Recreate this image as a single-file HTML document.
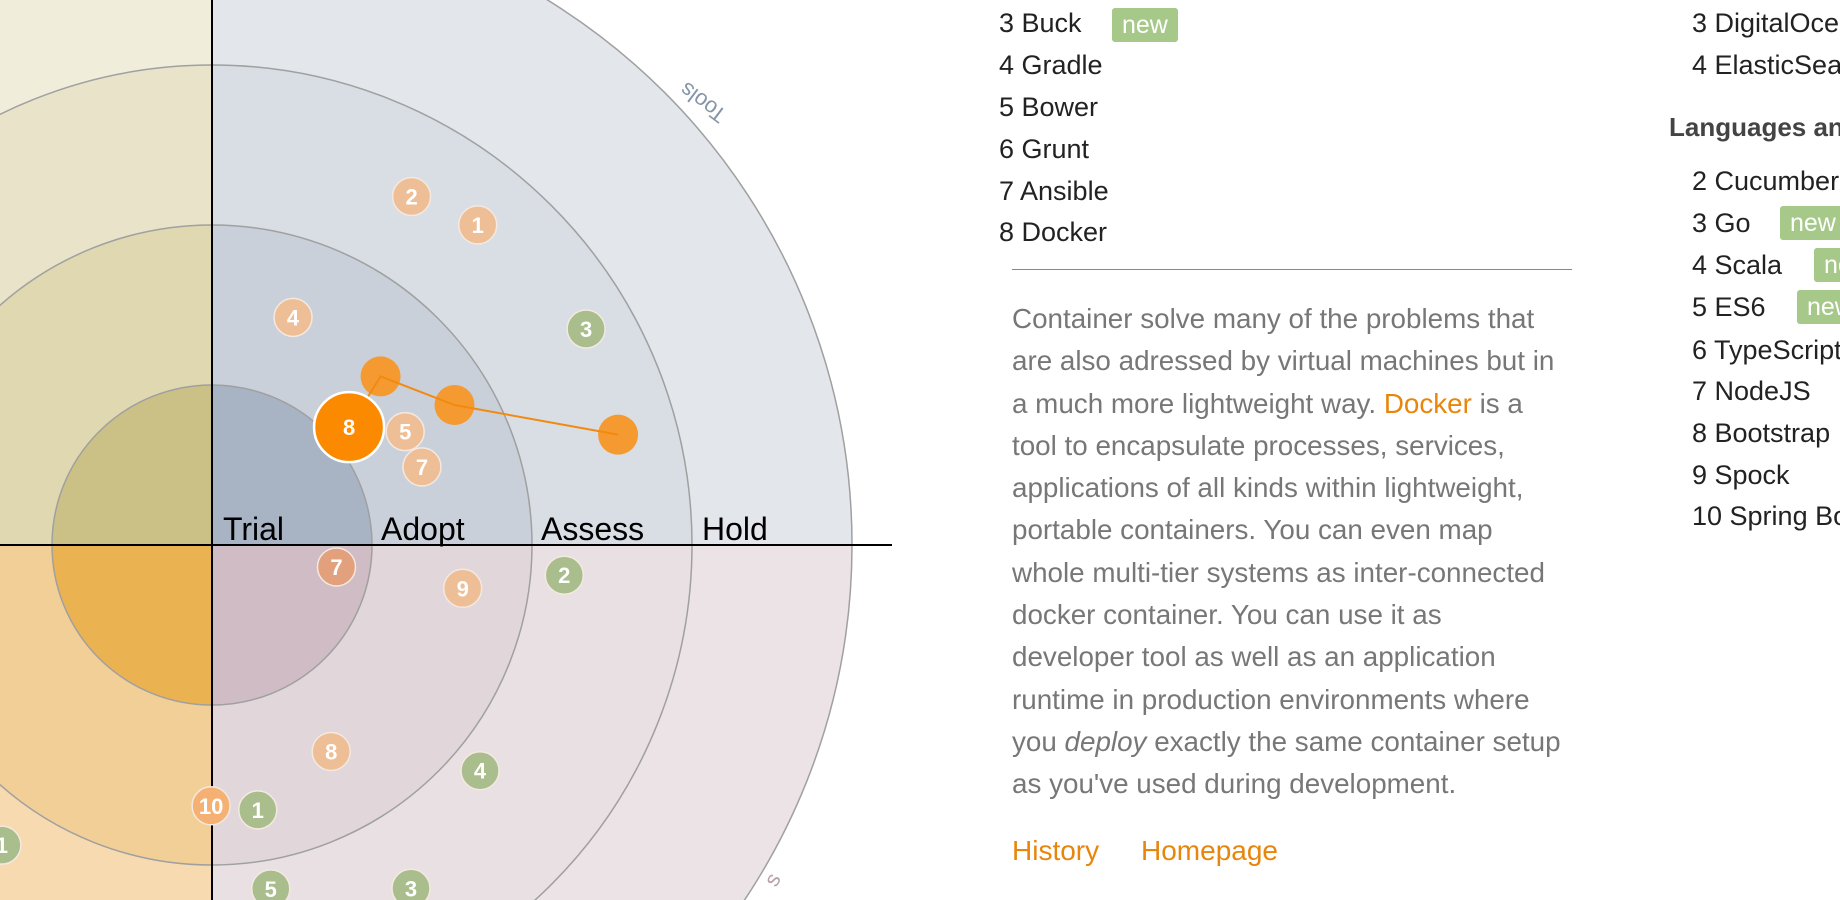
<!DOCTYPE html>
<html><head><meta charset="utf-8">
<style>
html,body{margin:0;padding:0;background:#fff;}
body{width:1840px;height:900px;overflow:hidden;position:relative;font-family:"Liberation Sans",Arial,sans-serif;}
.t{position:absolute;font-size:27px;line-height:42px;color:#222;white-space:nowrap;}
.badge{position:absolute;background:#a6c98a;color:#fff;font-size:25px;line-height:34px;padding:0 10px;border-radius:3px;}
.p{position:absolute;left:1012px;top:298px;font-size:27.8px;line-height:42.3px;color:#777;white-space:nowrap;}
.o{color:#e8860c;}
#rightcol{position:absolute;left:1660px;top:0;width:180px;height:900px;overflow:hidden;}
#rightcol .t{left:32px;}
#rightcol .badge{}
</style></head><body>
<svg id="radar" width="900" height="900" style="position:absolute;left:0;top:0">
  <defs>
    <clipPath id="qtr"><rect x="212" y="0" width="700" height="545"/></clipPath>
    <clipPath id="qtl"><rect x="0" y="0" width="212" height="545"/></clipPath>
    <clipPath id="qbl"><rect x="0" y="545" width="212" height="400"/></clipPath>
    <clipPath id="qbr"><rect x="212" y="545" width="700" height="400"/></clipPath>
  </defs>
  <g id="rings"></g>
  <line x1="212" y1="0" x2="212" y2="900" stroke="#000" stroke-width="2"/>
  <line x1="0" y1="545" x2="892" y2="545" stroke="#000" stroke-width="2"/>
  <g font-size="32" fill="#000">
    <text x="223" y="540">Trial</text>
    <text x="381" y="540">Adopt</text>
    <text x="541" y="540">Assess</text>
    <text x="702" y="540">Hold</text>
  </g>
  <text x="0" y="0" font-size="22" fill="#8795aa" transform="translate(728,112) rotate(-143)">Tools</text>
  <text x="0" y="0" font-size="22" fill="#b8a0aa" transform="translate(776,888) rotate(-60)">s</text>
  <g id="history"></g>
  <g id="points"></g>
</svg>

<div class="t" style="left:999px;top:2px">3 Buck</div>
<div class="badge" style="left:1112px;top:8px">new</div>
<div class="t" style="left:999px;top:44px">4 Gradle</div>
<div class="t" style="left:999px;top:86px">5 Bower</div>
<div class="t" style="left:999px;top:128px">6 Grunt</div>
<div class="t" style="left:999px;top:170px">7 Ansible</div>
<div class="t" style="left:999px;top:211px">8 Docker</div>
<div style="position:absolute;left:1012px;top:269px;width:560px;height:1px;background:#888"></div>
<div class="p">Container solve many of the problems that<br>are also adressed by virtual machines but in<br>a much more lightweight way. <span class="o">Docker</span> is a<br>tool to encapsulate processes, services,<br>applications of all kinds within lightweight,<br>portable containers. You can even map<br>whole multi-tier systems as inter-connected<br>docker container. You can use it as<br>developer tool as well as an application<br>runtime in production environments where<br>you <i>deploy</i> exactly the same container setup<br>as you've used during development.</div>
<div class="t o" style="left:1012px;top:830px;color:#e8860c;font-size:28px">History</div>
<div class="t o" style="left:1141px;top:830px;color:#e8860c;font-size:28px">Homepage</div>

<div id="rightcol">
<div class="t" style="top:2px">3 DigitalOcean</div>
<div class="t" style="top:44px">4 ElasticSearch</div>
<div class="t" style="left:9px;top:106px;font-weight:bold;color:#444;font-size:26px">Languages and Frameworks</div>
<div class="t" style="top:160px">2 Cucumber</div>
<div class="t" style="top:202px">3 Go</div>
<div class="badge" style="left:120px;top:206px">new</div>
<div class="t" style="top:244px">4 Scala</div>
<div class="badge" style="left:154px;top:248px">new</div>
<div class="t" style="top:286px">5 ES6</div>
<div class="badge" style="left:137px;top:290px">new</div>
<div class="t" style="top:329px">6 TypeScript</div>
<div class="t" style="top:370px">7 NodeJS</div>
<div class="t" style="top:412px">8 Bootstrap</div>
<div class="t" style="top:454px">9 Spock</div>
<div class="t" style="top:495px">10 Spring Boot</div>
</div>

<script>
// ring radii in ring units, point values as [ring-distance, angle-degrees]
const ringLevels = [4, 3, 2, 1];
const pointLabels = ["2","1","4","3","5","7","7","9","2","8","4","1","10","5","3","1"];
const pointDist = [2.51,2.60,1.51,2.70,1.40,1.40,0.79,1.59,2.21,1.49,2.19,1.68,1.63,2.18,2.48,2.29];
const pointAngle = [60.2,50.3,70.4,30.0,30.4,20.4,-10,-9.8,-4.9,-60,-40.1,-80.2,-90.2,-80.3,-59.9,-125];
const pointKind = ["o","o","o","g","o","o","d","o","g","o","g","g","b","g","g","g"];
const histDist = [1.13,1.49,1.75,2.63];
const histAngle = [40.7,45,30,15.2];
const focusLabel = "8";

const CX=212, CY=545, UNIT=160;
const rS = v => v*UNIT;
const px = (d,a) => CX + rS(d)*Math.cos(a*Math.PI/180);
const py = (d,a) => CY - rS(d)*Math.sin(a*Math.PI/180);
const NS="http://www.w3.org/2000/svg";
const quadColors = {
  qtr:["#e3e6eb","#d9dde4","#c9d0da","#a8b3c4"],
  qtl:["#f0eddb","#e9e3c9","#dfd8b0","#cbc186"],
  qbl:["#f8e0bd","#f7dab0","#f3cf98","#ebb252"],
  qbr:["#ece3e6","#e9e0e3","#e1d6da","#cfbcc5"]
};
const rings=document.getElementById('rings');
Object.keys(quadColors).forEach(q=>{
  const g=document.createElementNS(NS,'g');
  g.setAttribute('clip-path','url(#'+q+')');
  
  
  ringLevels.forEach((lv,i)=>{
    const c=document.createElementNS(NS,'circle');
    
    
    c.setAttribute('cx',CX);c.setAttribute('cy',CY);c.setAttribute('r',rS(lv));
    c.setAttribute('fill',quadColors[q][i]);
    c.setAttribute('stroke','#a0a0a0');c.setAttribute('stroke-width','1.5');
    g.appendChild(c);
  });
  rings.appendChild(g);
});
const colors={o:"#eebf96",g:"#a9bd8d",d:"#e2a07c",b:"#f5b173"};
const pts=document.getElementById('points');
pointLabels.forEach((lab,i)=>{
  const x=px(pointDist[i],pointAngle[i]), y=py(pointDist[i],pointAngle[i]);
  const c=document.createElementNS(NS,'circle');
  
  
  c.setAttribute('cx',x);c.setAttribute('cy',y);c.setAttribute('r',19);
  c.setAttribute('fill',colors[pointKind[i]]);c.setAttribute('stroke','#f4e9e0');c.setAttribute('stroke-width','1.5');
  pts.appendChild(c);
  const t=document.createElementNS(NS,'text');
  
  
  t.setAttribute('x',x);t.setAttribute('y',y+8);t.setAttribute('text-anchor','middle');
  t.setAttribute('font-size','22');t.setAttribute('font-weight','bold');t.setAttribute('fill','#fff');
  t.textContent=lab;pts.appendChild(t);
});
const hist=document.getElementById('history');
const pl=document.createElementNS(NS,'polyline');


pl.setAttribute('points',histDist.map((d,i)=>px(d,histAngle[i])+','+py(d,histAngle[i])).join(' '));
pl.setAttribute('fill','none');pl.setAttribute('stroke','#f28a10');pl.setAttribute('stroke-width','2');
histDist.forEach((d,i)=>{
  if(i===0)return;
  const c=document.createElementNS(NS,'circle');
  
  
  c.setAttribute('cx',px(d,histAngle[i]));c.setAttribute('cy',py(d,histAngle[i]));c.setAttribute('r',20);
  c.setAttribute('fill','#f59a30');
  hist.appendChild(c);
});
hist.appendChild(pl);
const fc=document.createElementNS(NS,'circle');


fc.setAttribute('cx',px(histDist[0],histAngle[0]));fc.setAttribute('cy',py(histDist[0],histAngle[0]));fc.setAttribute('r',35);
fc.setAttribute('fill','#fb8a00');fc.setAttribute('stroke','#fff');fc.setAttribute('stroke-width','2.5');
hist.appendChild(fc);
const ft=document.createElementNS(NS,'text');


ft.setAttribute('x',px(histDist[0],histAngle[0]));ft.setAttribute('y',py(histDist[0],histAngle[0])+8);
ft.setAttribute('text-anchor','middle');ft.setAttribute('font-size','22');ft.setAttribute('font-weight','bold');ft.setAttribute('fill','#fff');
ft.textContent=focusLabel;hist.appendChild(ft);
</script>
</body></html>
